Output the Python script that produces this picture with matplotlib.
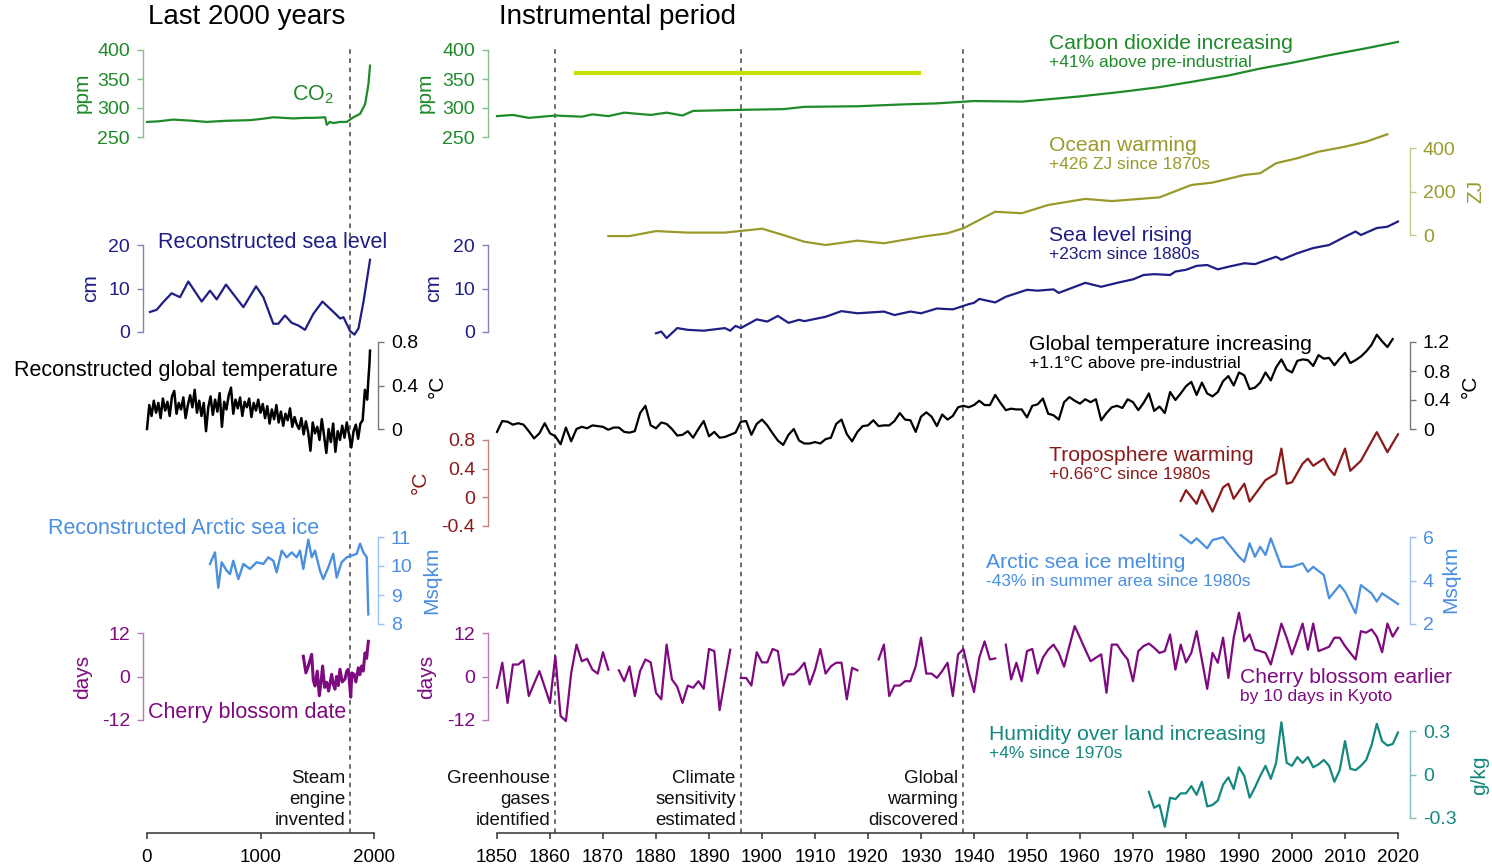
import numpy as np
import matplotlib
matplotlib.use('Agg')
import matplotlib.pyplot as plt
from matplotlib.colors import to_rgb

plt.rcParams['font.family'] = ['Liberation Sans', 'DejaVu Sans']
plt.rcParams['mathtext.fontset'] = 'custom'
plt.rcParams['mathtext.rm'] = 'Liberation Sans'
plt.rcParams['mathtext.it'] = 'Liberation Sans:italic'

# ---------------- data: last 2000 years ----------------
co2_l_years = [0, 100, 232, 400, 526, 700, 907, 1000, 1113, 1200, 1290, 1380, 1466, 1569, 1584,
               1610, 1643, 1700, 1760, 1819, 1878, 1922, 1951, 1965]
co2_l_vals = [276, 277, 280, 278, 276, 278, 279, 281, 284, 283, 282, 283, 283, 284, 271,
              276, 274, 276, 276, 284, 290, 307, 341, 373]

sea_l_years = [26, 85, 144, 217, 291, 364, 482, 555, 614, 696, 849, 961, 1025, 1113, 1157, 1216,
               1275, 1333, 1392, 1466, 1546, 1643, 1702, 1731, 1790, 1828, 1863, 1907, 1965]
sea_l_vals = [4.6, 5.1, 6.9, 8.9, 8.0, 11.6, 7.0, 9.5, 7.5, 10.9, 5.7, 10.5, 8.0, 1.9, 1.9, 3.8,
              2.1, 1.5, 0.5, 4.2, 7.0, 4.6, 3.1, 3.4, 0.2, -0.6, 0.8, 6.9, 16.6]

temp_l_years = list(range(0, 1920, 20)) + [1920, 1940, 1950, 1960, 1965]
temp_l_vals = [0.00, 0.22, 0.12, 0.26, 0.15, 0.24, 0.10, 0.28, 0.17, 0.25,
               0.12, 0.30, 0.35, 0.14, 0.24, 0.18, 0.29, 0.10, 0.22, 0.31,
               0.20, 0.36, 0.15, 0.26, 0.12, 0.24, -0.02, 0.20, 0.30, 0.13,
               0.27, 0.16, 0.33, 0.02, 0.25, 0.18, 0.31, 0.38, 0.14, 0.27,
               0.19, 0.29, 0.12, 0.25, 0.20, 0.28, 0.11, 0.24, 0.17, 0.27,
               0.15, 0.23, 0.10, 0.21, 0.05, 0.18, 0.09, 0.22, 0.06, 0.16,
               0.03, 0.14, 0.08, 0.19, 0.02, 0.11, 0.04, 0.00, 0.10, -0.05,
               0.07, -0.03, -0.20, 0.06, -0.04, 0.02, -0.10, 0.09, -0.06, -0.22,
               0.00, -0.12, 0.05, -0.21, -0.02, -0.10, 0.03, -0.08, 0.06, -0.05,
               -0.17, -0.02, 0.04, -0.09, 0.05, 0.08,
               0.36, 0.27, 0.45, 0.60, 0.72]

ice_l_years = [555, 599, 628, 658, 702, 731, 760, 805, 849, 907, 966, 1025, 1069, 1113, 1142,
               1187, 1231, 1275, 1319, 1348, 1377, 1421, 1451, 1480, 1524, 1553, 1597, 1641,
               1671, 1715, 1760, 1804, 1848, 1877, 1906, 1936, 1950]
ice_l_vals = [10.07, 10.47, 9.25, 10.13, 9.84, 9.72, 10.18, 9.55, 10.07, 9.90, 10.13, 10.07,
              10.30, 10.18, 9.78, 10.53, 10.30, 10.47, 10.30, 10.53, 9.90, 10.91, 10.30, 10.53,
              9.84, 9.55, 9.95, 10.42, 9.60, 10.13, 10.30, 10.36, 10.42, 10.77, 10.47, 10.30, 8.33]

cherry_l_years = [1377, 1400, 1421, 1451, 1465, 1480, 1500, 1518, 1535, 1547, 1565, 1583, 1600,
                  1627, 1640, 1656, 1670, 1685, 1700, 1720, 1744, 1760, 1774, 1785, 1795, 1805,
                  1824, 1840, 1862, 1875, 1891, 1905, 1921, 1935, 1950]
cherry_l_vals = [5.6, 1.0, 2.9, 6.1, -1.0, -2.6, 1.5, -5.3, -1.0, 2.9, -3.0, -1.6, -4.0,
                 0.6, -2.0, -3.5, 0.0, -2.5, 2.0, -1.5, -0.7, 1.5, 2.0, -2.0, -5.7, 1.0,
                 0.6, -1.5, 2.4, 0.5, 2.9, 1.5, 6.5, 5.0, 9.7]

# ---------------- data: instrumental period ----------------
co2_years = [1850, 1853, 1856, 1861, 1866, 1868, 1871, 1874, 1879, 1882, 1885, 1887, 1897, 1904,
             1908, 1918, 1926, 1933, 1940, 1949, 1954, 1960, 1968, 1975, 1981, 1988, 1994, 2000,
             2007, 2014, 2020]
co2_vals = [286, 288, 283, 287, 285, 289, 286, 292, 288, 292, 287, 295, 297, 298,
            302, 303, 306, 308, 312, 311, 315, 320, 328, 336, 345, 356, 368, 378,
            391, 403, 414]
highlight_years = [1864.5, 1930]
highlight_ppm = [360, 360]

ocean_years = [1871, 1875, 1880, 1886, 1893, 1900, 1904, 1908, 1912, 1918, 1923, 1931, 1935,
               1938, 1944, 1949, 1954, 1961, 1966, 1975, 1981, 1985, 1991, 1994, 1997, 2001,
               2005, 2010, 2014, 2018]
ocean_vals = [-5, -5, 18, 11, 11, 29, 0, -31, -46, -26, -38, -5, 8,
              31, 107, 100, 138, 166, 156, 173, 230, 241, 276, 284, 330, 353,
              383, 406, 429, 463]

sea_years = [1880, 1881, 1882, 1884, 1886, 1889, 1893, 1894, 1895, 1896, 1899, 1901, 1903, 1905,
             1907, 1908, 1912, 1915, 1918, 1923, 1925, 1928, 1930, 1933, 1936, 1939, 1940, 1941,
             1944, 1946, 1950, 1952, 1955, 1956, 1961, 1964, 1967, 1970, 1972, 1974, 1977, 1978,
             1980, 1982, 1984, 1986, 1988, 1991, 1993, 1997, 1998, 2001, 2004, 2007, 2010, 2012,
             2013, 2016, 2018, 2020]
sea_vals = [-0.3, 0.1, -1.4, 0.9, 0.5, 0.3, 0.9, 0.3, 1.4, 0.9, 2.9, 2.4, 3.7, 2.1,
            2.8, 2.5, 3.5, 4.8, 4.3, 4.7, 3.9, 4.7, 4.3, 5.4, 5.2, 6.4, 6.7, 7.6,
            6.8, 8.1, 9.7, 9.5, 9.8, 9.0, 11.3, 10.4, 11.3, 12.1, 13.1, 13.3, 13.1, 13.9,
            14.3, 15.2, 15.4, 14.4, 15.0, 15.8, 15.6, 17.3, 16.6, 18.1, 19.3, 20.0, 21.9, 23.1,
            22.3, 23.9, 24.2, 25.4]

temp_years = list(range(1850, 2020))
temp_vals = [-0.04, 0.11, 0.10, 0.06, 0.08, 0.06, -0.03, -0.13, -0.06, 0.08,
             -0.06, -0.10, -0.21, 0.02, -0.17, 0.00, 0.03, 0.01, 0.05, 0.04,
             0.03, -0.01, 0.02, 0.02, -0.04, -0.05, -0.03, 0.22, 0.32, 0.05,
             0.01, 0.09, 0.07, 0.00, -0.09, -0.08, -0.03, -0.12, 0.00, 0.11,
             -0.10, -0.04, -0.12, -0.11, -0.08, -0.05, 0.10, 0.11, -0.08, 0.07,
             0.13, 0.05, -0.06, -0.16, -0.22, -0.08, 0.00, -0.16, -0.20, -0.20,
             -0.18, -0.20, -0.14, -0.12, 0.07, 0.13, -0.07, -0.17, -0.04, 0.04,
             0.05, 0.12, 0.04, 0.05, 0.05, 0.11, 0.22, 0.13, 0.12, -0.04,
             0.17, 0.23, 0.17, 0.04, 0.20, 0.13, 0.18, 0.30, 0.32, 0.30,
             0.33, 0.39, 0.33, 0.33, 0.47, 0.36, 0.26, 0.28, 0.27, 0.27,
             0.16, 0.32, 0.34, 0.42, 0.21, 0.19, 0.13, 0.37, 0.44, 0.39,
             0.35, 0.41, 0.37, 0.41, 0.12, 0.22, 0.30, 0.32, 0.29, 0.41,
             0.37, 0.26, 0.36, 0.49, 0.25, 0.31, 0.22, 0.51, 0.40, 0.49,
             0.59, 0.65, 0.47, 0.64, 0.49, 0.45, 0.51, 0.66, 0.73, 0.60,
             0.78, 0.74, 0.55, 0.57, 0.64, 0.78, 0.67, 0.85, 0.96, 0.82,
             0.78, 0.94, 0.96, 0.95, 0.87, 1.02, 0.97, 0.98, 0.88, 0.97,
             1.05, 0.91, 0.95, 1.00, 1.07, 1.16, 1.30, 1.21, 1.13, 1.24]

tropo_years = [1979, 1980, 1982, 1983, 1985, 1987, 1988, 1989, 1991, 1992, 1995, 1997, 1998, 1999,
               2000, 2002, 2003, 2004, 2006, 2007, 2008, 2010, 2011, 2013, 2016, 2018, 2020]
tropo_vals = [-0.05, 0.10, -0.09, 0.10, -0.20, 0.14, 0.19, -0.02, 0.19, -0.06, 0.24, 0.33, 0.68,
              0.19, 0.21, 0.47, 0.54, 0.44, 0.54, 0.40, 0.31, 0.68, 0.37, 0.51, 0.91, 0.63, 0.88]

ice_years = [1979, 1981, 1982, 1984, 1985, 1987, 1990, 1991, 1992, 1993, 1994, 1995, 1996, 1998,
             2000, 2002, 2003, 2004, 2006, 2007, 2009, 2010, 2012, 2013, 2015, 2016, 2017, 2020]
ice_vals = [6.09, 5.71, 5.94, 5.48, 5.86, 5.99, 5.09, 4.86, 5.71, 5.09, 5.55, 5.17, 5.94, 4.63,
            4.63, 4.79, 4.40, 4.63, 4.25, 3.18, 3.79, 3.49, 2.49, 3.79, 3.41, 3.03, 3.41, 2.92]

nan = float('nan')
cherry_years = [1850, 1851, 1852, 1853, 1854, 1855, 1856, 1858, 1860, 1861, 1862, 1863, 1864, 1865,
                1866, 1867, 1868, 1869, 1870, 1871, 1872, 1873, 1874, 1875, 1876, 1877, 1878, 1879,
                1880, 1881, 1882, 1883, 1884, 1885, 1886, 1887, 1888, 1889, 1890, 1891, 1892, 1894,
                1895, 1896, 1897, 1898, 1899, 1900, 1901, 1902, 1903, 1904, 1905, 1906, 1907, 1908,
                1909, 1910, 1911, 1912, 1913, 1914, 1915, 1916, 1917, 1918, 1919, 1922, 1923, 1924,
                1925, 1926, 1927, 1928, 1929, 1930, 1931, 1932, 1933, 1934, 1935, 1936, 1937, 1938,
                1939, 1940, 1941, 1942, 1943, 1944, 1945, 1946, 1947, 1948, 1949, 1950, 1951, 1952,
                1953, 1954, 1955, 1956, 1957, 1958, 1959, 1960, 1961, 1962, 1963, 1964, 1965, 1966,
                1967, 1968, 1969, 1970, 1971, 1972, 1973, 1974, 1975, 1976, 1977, 1978, 1979, 1980,
                1981, 1982, 1984, 1985, 1986, 1987, 1988, 1989, 1990, 1991, 1992, 1993, 1994, 1995,
                1996, 1997, 1998, 1999, 2000, 2001, 2002, 2003, 2004, 2005, 2006, 2007, 2008, 2009,
                2010, 2011, 2012, 2013, 2014, 2015, 2016, 2017, 2018, 2019, 2020]
cherry_vals = [-3.1, 3.8, -7.3, 3.3, 3.3, 4.5, -5.4, 1.5, -7.3, 5.6, -10.9, -12.3, 1.0, 8.8,
               4.2, 4.9, 1.9, 0.8, 6.7, 1.9, nan, 1.7, -1.3, 2.8, -5.4, 1.5, 4.7, 3.9,
               -4.5, -6.3, 8.8, -0.8, -2.8, -7.3, -2.5, -3.1, -1.3, -3.4, 7.6, 7.0, -9.3, 7.4,
               nan, -0.4, -0.4, -2.5, 6.7, 3.9, 3.9, 7.6, 7.0, -2.5, 0.6, 0.6, 1.9, 3.8,
               -2.2, 1.9, 7.6, 0.8, 2.8, 3.8, 3.8, -6.3, 2.4, 1.7, nan, 4.7, 8.8, -5.4,
               -2.5, -2.5, -1.3, -1.3, 2.8, 10.7, 0.8, 0.8, -0.4, 1.5, 3.8, -5.4, 6.1, 7.6,
               1.2, -4.3, 5.2, 9.7, 4.7, 5.0, nan, 8.8, -0.8, 3.8, -1.3, 7.0, 7.6, 0.8,
               5.2, 7.4, 8.8, 6.5, 2.7, 8.4, 13.9, 10.7, 7.4, 4.2, 5.2, 6.1, -4.5, 8.8,
               8.8, 6.5, 4.7, -1.3, 7.0, 8.4, 9.1, 7.9, 6.5, 7.0, 11.6, 1.9, 8.8, 3.9,
               6.5, 12.5, -3.4, 6.5, 3.8, 10.7, -0.4, 10.7, 17.6, 9.7, 11.6, 7.4, 7.0, 6.5,
               3.3, 8.8, 14.6, 10.7, 6.1, 10.2, 14.6, 7.4, 14.6, 7.0, 7.6, 8.2, 10.7, 10.7,
               8.4, 6.5, 4.7, 12.5, 12.1, 13.0, 11.0, 6.7, 14.6, 11.0, 13.4]

hum_years = list(range(1973, 2021))
hum_vals = [-0.12, -0.23, -0.21, -0.36, -0.16, -0.17, -0.13, -0.13, -0.08, -0.14,
            -0.05, -0.22, -0.21, -0.18, -0.07, -0.02, -0.10, 0.05, -0.01, -0.16,
            -0.09, -0.01, 0.06, -0.03, 0.08, 0.36, 0.08, 0.06, 0.12, 0.08,
            0.12, 0.05, 0.07, 0.10, 0.06, -0.05, 0.03, 0.23, 0.04, 0.03,
            0.06, 0.10, 0.20, 0.35, 0.23, 0.20, 0.21, 0.29]

events_left = [(1790, 'Steam\nengine\ninvented')]
events_right = [(1861, 'Greenhouse\ngases\nidentified'),
                (1896, 'Climate\nsensitivity\nestimated'),
                (1938, 'Global\nwarming\ndiscovered')]

# ---------------- colours ----------------
C_CO2 = '#1f8a2a'
C_OCEAN = '#9a9a2c'
C_SEA = '#1e1e84'
C_TEMP = '#000000'
C_TROPO = '#8b1a1a'
C_ICE = '#4a8fe0'
C_CHERRY = '#7e0a80'
C_HUM = '#14877f'
C_HL = '#c6e000'

def light(c, f=0.45):
    r, g, b = to_rgb(c)
    return (r + (1 - r) * f, g + (1 - g) * f, b + (1 - b) * f)

# ---------------- figure / layout ----------------
W, H = 1492, 867
fig = plt.figure(figsize=(W / 100, H / 100), dpi=100)
fig.patch.set_facecolor('white')

LEFT = ((147, 374), (0, 2000))
RIGHT = ((497, 1398), (1850, 2020))
PT = 0.72  # points per pixel


def px_axes(xpx, ytop, ybot):
    return fig.add_axes([xpx[0] / W, 1 - ybot / H, (xpx[1] - xpx[0]) / W, (ybot - ytop) / H])


def series_axes(panel, ytop, ybot, ticks, labels, color, side, out_px):
    xpx, xlim = panel
    ax = px_axes(xpx, ytop, ybot)
    ax.set_xlim(xlim)
    ax.set_ylim(ticks[0], ticks[-1])
    ax.patch.set_visible(False)
    for s in ax.spines.values():
        s.set_visible(False)
    ax.set_xticks([])
    sp = ax.spines[side]
    sp.set_visible(True)
    sp.set_position(('outward', out_px * PT))
    sp.set_color(light(color))
    sp.set_linewidth(1.0)
    sp.set_bounds(ticks[0], ticks[-1])
    ax.set_yticks(ticks)
    ax.set_yticklabels(labels)
    if side == 'right':
        ax.yaxis.tick_right()
    else:
        ax.yaxis.tick_left()
    ax.tick_params(axis='y', length=6 * PT, width=1.0, color=light(color),
                   labelcolor=color, labelsize=14, pad=5)
    return ax


def line(ax, x, y, color, lw=1.6, z=3):
    ax.plot(x, y, color=color, lw=lw, clip_on=False, zorder=z, solid_joinstyle='round')


def ptext(x, y, s, **kw):
    fig.text(x / W, 1 - y / H, s, **kw)


# background axes with x axis and event lines
for panel, events, ticks, tlabels in [
        (LEFT, events_left, [0, 1000, 2000], ['0', '1000', '2000']),
        (RIGHT, events_right, list(range(1850, 2021, 10)), [str(t) for t in range(1850, 2021, 10)])]:
    xpx, xlim = panel
    bg = px_axes(xpx, 48, 833)
    bg.set_xlim(xlim)
    bg.set_ylim(0, 1)
    bg.patch.set_visible(False)
    for s in ['left', 'right', 'top']:
        bg.spines[s].set_visible(False)
    bg.spines['bottom'].set_color('#333333')
    bg.spines['bottom'].set_linewidth(1.1)
    bg.set_yticks([])
    bg.set_xticks(ticks)
    bg.set_xticklabels(tlabels)
    bg.tick_params(axis='x', length=6 * PT, width=1.1, color='#333333', labelsize=13.5, pad=7)
    for yr, lab in events:
        bg.axvline(yr, color='#444444', lw=1.1, ls=(0, (3.0, 3.0)), zorder=1)
        bg.annotate(lab, xy=(yr, 0), xycoords=('data', 'axes fraction'),
                    xytext=(-5, 4), textcoords='offset pixels', ha='right', va='bottom',
                    fontsize=13.5, linespacing=1.3, color='#111111')

# ---- left panel series ----
ax = series_axes(LEFT, 50, 137, [250, 300, 350, 400], ['250', '300', '350', '400'], C_CO2, 'left', 4)
line(ax, co2_l_years, co2_l_vals, C_CO2)

ax = series_axes(LEFT, 245, 332, [0, 10, 20], ['0', '10', '20'], C_SEA, 'left', 4)
line(ax, sea_l_years, sea_l_vals, C_SEA)

ax = series_axes(LEFT, 342, 429, [0, 0.4, 0.8], ['0', '0.4', '0.8'], C_TEMP, 'right', 4)
ax.spines['right'].set_color('#777777')
ax.tick_params(axis='y', color='#777777')
line(ax, temp_l_years, temp_l_vals, C_TEMP, lw=1.8)

ax = series_axes(LEFT, 537, 624, [8, 9, 10, 11], ['8', '9', '10', '11'], C_ICE, 'right', 4)
line(ax, ice_l_years, ice_l_vals, C_ICE, lw=1.7)

ax = series_axes(LEFT, 633, 720, [-12, 0, 12], ['-12', '0', '12'], C_CHERRY, 'left', 4)
line(ax, cherry_l_years, cherry_l_vals, C_CHERRY, lw=2.2)

# ---- right panel series ----
ax = series_axes(RIGHT, 50, 137, [250, 300, 350, 400], ['250', '300', '350', '400'], C_CO2, 'left', 9)
line(ax, co2_years, co2_vals, C_CO2)
ax.plot(highlight_years, highlight_ppm, color=C_HL, lw=3.0, solid_capstyle='butt', zorder=2)

ax = series_axes(RIGHT, 148, 235, [0, 200, 400], ['0', '200', '400'], C_OCEAN, 'right', 12)
line(ax, ocean_years, ocean_vals, C_OCEAN)

ax = series_axes(RIGHT, 245, 332, [0, 10, 20], ['0', '10', '20'], C_SEA, 'left', 9)
line(ax, sea_years, sea_vals, C_SEA)

ax = series_axes(RIGHT, 342, 429, [0, 0.4, 0.8, 1.2], ['0', '0.4', '0.8', '1.2'], C_TEMP, 'right', 12)
ax.spines['right'].set_color('#777777')
ax.tick_params(axis='y', color='#777777')
line(ax, temp_years, temp_vals, C_TEMP)

ax = series_axes(RIGHT, 440, 526, [-0.4, 0, 0.4, 0.8], ['-0.4', '0', '0.4', '0.8'], C_TROPO, 'left', 9)
line(ax, tropo_years, tropo_vals, C_TROPO)

ax = series_axes(RIGHT, 537, 624, [2, 4, 6], ['2', '4', '6'], C_ICE, 'right', 12)
line(ax, ice_years, ice_vals, C_ICE)

ax = series_axes(RIGHT, 633, 720, [-12, 0, 12], ['-12', '0', '12'], C_CHERRY, 'left', 9)
line(ax, cherry_years, cherry_vals, C_CHERRY)

ax = series_axes(RIGHT, 731, 818, [-0.3, 0, 0.3], ['-0.3', '0', '0.3'], C_HUM, 'right', 12)
line(ax, hum_years, hum_vals, C_HUM)

# ---- titles ----
ptext(148, 24, 'Last 2000 years', fontsize=20, va='baseline', ha='left')
ptext(499, 24, 'Instrumental period', fontsize=20, va='baseline', ha='left')

# ---- left panel labels ----
ptext(292, 100, r'CO$_\mathrm{2}$', fontsize=15.5, color=C_CO2, va='baseline')
ptext(158, 248, 'Reconstructed sea level', fontsize=15.5, color=C_SEA, va='baseline')
ptext(14, 376, 'Reconstructed global temperature', fontsize=15.5, color=C_TEMP, va='baseline')
ptext(48, 534, 'Reconstructed Arctic sea ice', fontsize=15.5, color=C_ICE, va='baseline')
ptext(148, 718, 'Cherry blossom date', fontsize=15.5, color=C_CHERRY, va='baseline')

# ---- right panel labels ----
right_labels = [
    (1049, 49, 'Carbon dioxide increasing', '+41% above pre-industrial', C_CO2),
    (1049, 151, 'Ocean warming', '+426 ZJ since 1870s', C_OCEAN),
    (1049, 241, 'Sea level rising', '+23cm since 1880s', C_SEA),
    (1029, 350, 'Global temperature increasing', '+1.1°C above pre-industrial', C_TEMP),
    (1049, 461, 'Troposphere warming', '+0.66°C since 1980s', C_TROPO),
    (986, 568, 'Arctic sea ice melting', '-43% in summer area since 1980s', C_ICE),
    (1240, 683, 'Cherry blossom earlier', 'by 10 days in Kyoto', C_CHERRY),
    (989, 740, 'Humidity over land increasing', '+4% since 1970s', C_HUM),
]
for x, y, main, sub, c in right_labels:
    ptext(x, y, main, fontsize=15.2, color=c, va='baseline')
    ptext(x, y + 18, sub, fontsize=12.5, color=c, va='baseline')

# ---- unit labels ----
units = [
    (82, 93, 'ppm', C_CO2), (425, 93, 'ppm', C_CO2),
    (91, 288, 'cm', C_SEA), (434, 288, 'cm', C_SEA),
    (437, 386, '°C', C_TEMP), (420, 482, '°C', C_TROPO),
    (432, 580, 'Msqkm', C_ICE), (83, 677, 'days', C_CHERRY), (427, 677, 'days', C_CHERRY),
    (1476, 191, 'ZJ', C_OCEAN), (1470, 386, '°C', C_TEMP),
    (1451, 579, 'Msqkm', C_ICE), (1480, 775, 'g/kg', C_HUM),
]
for x, y, s, c in units:
    ptext(x, y, s, fontsize=15, color=c, rotation=90, ha='center', va='center')

fig.savefig('out.png', dpi=100, facecolor='white')
